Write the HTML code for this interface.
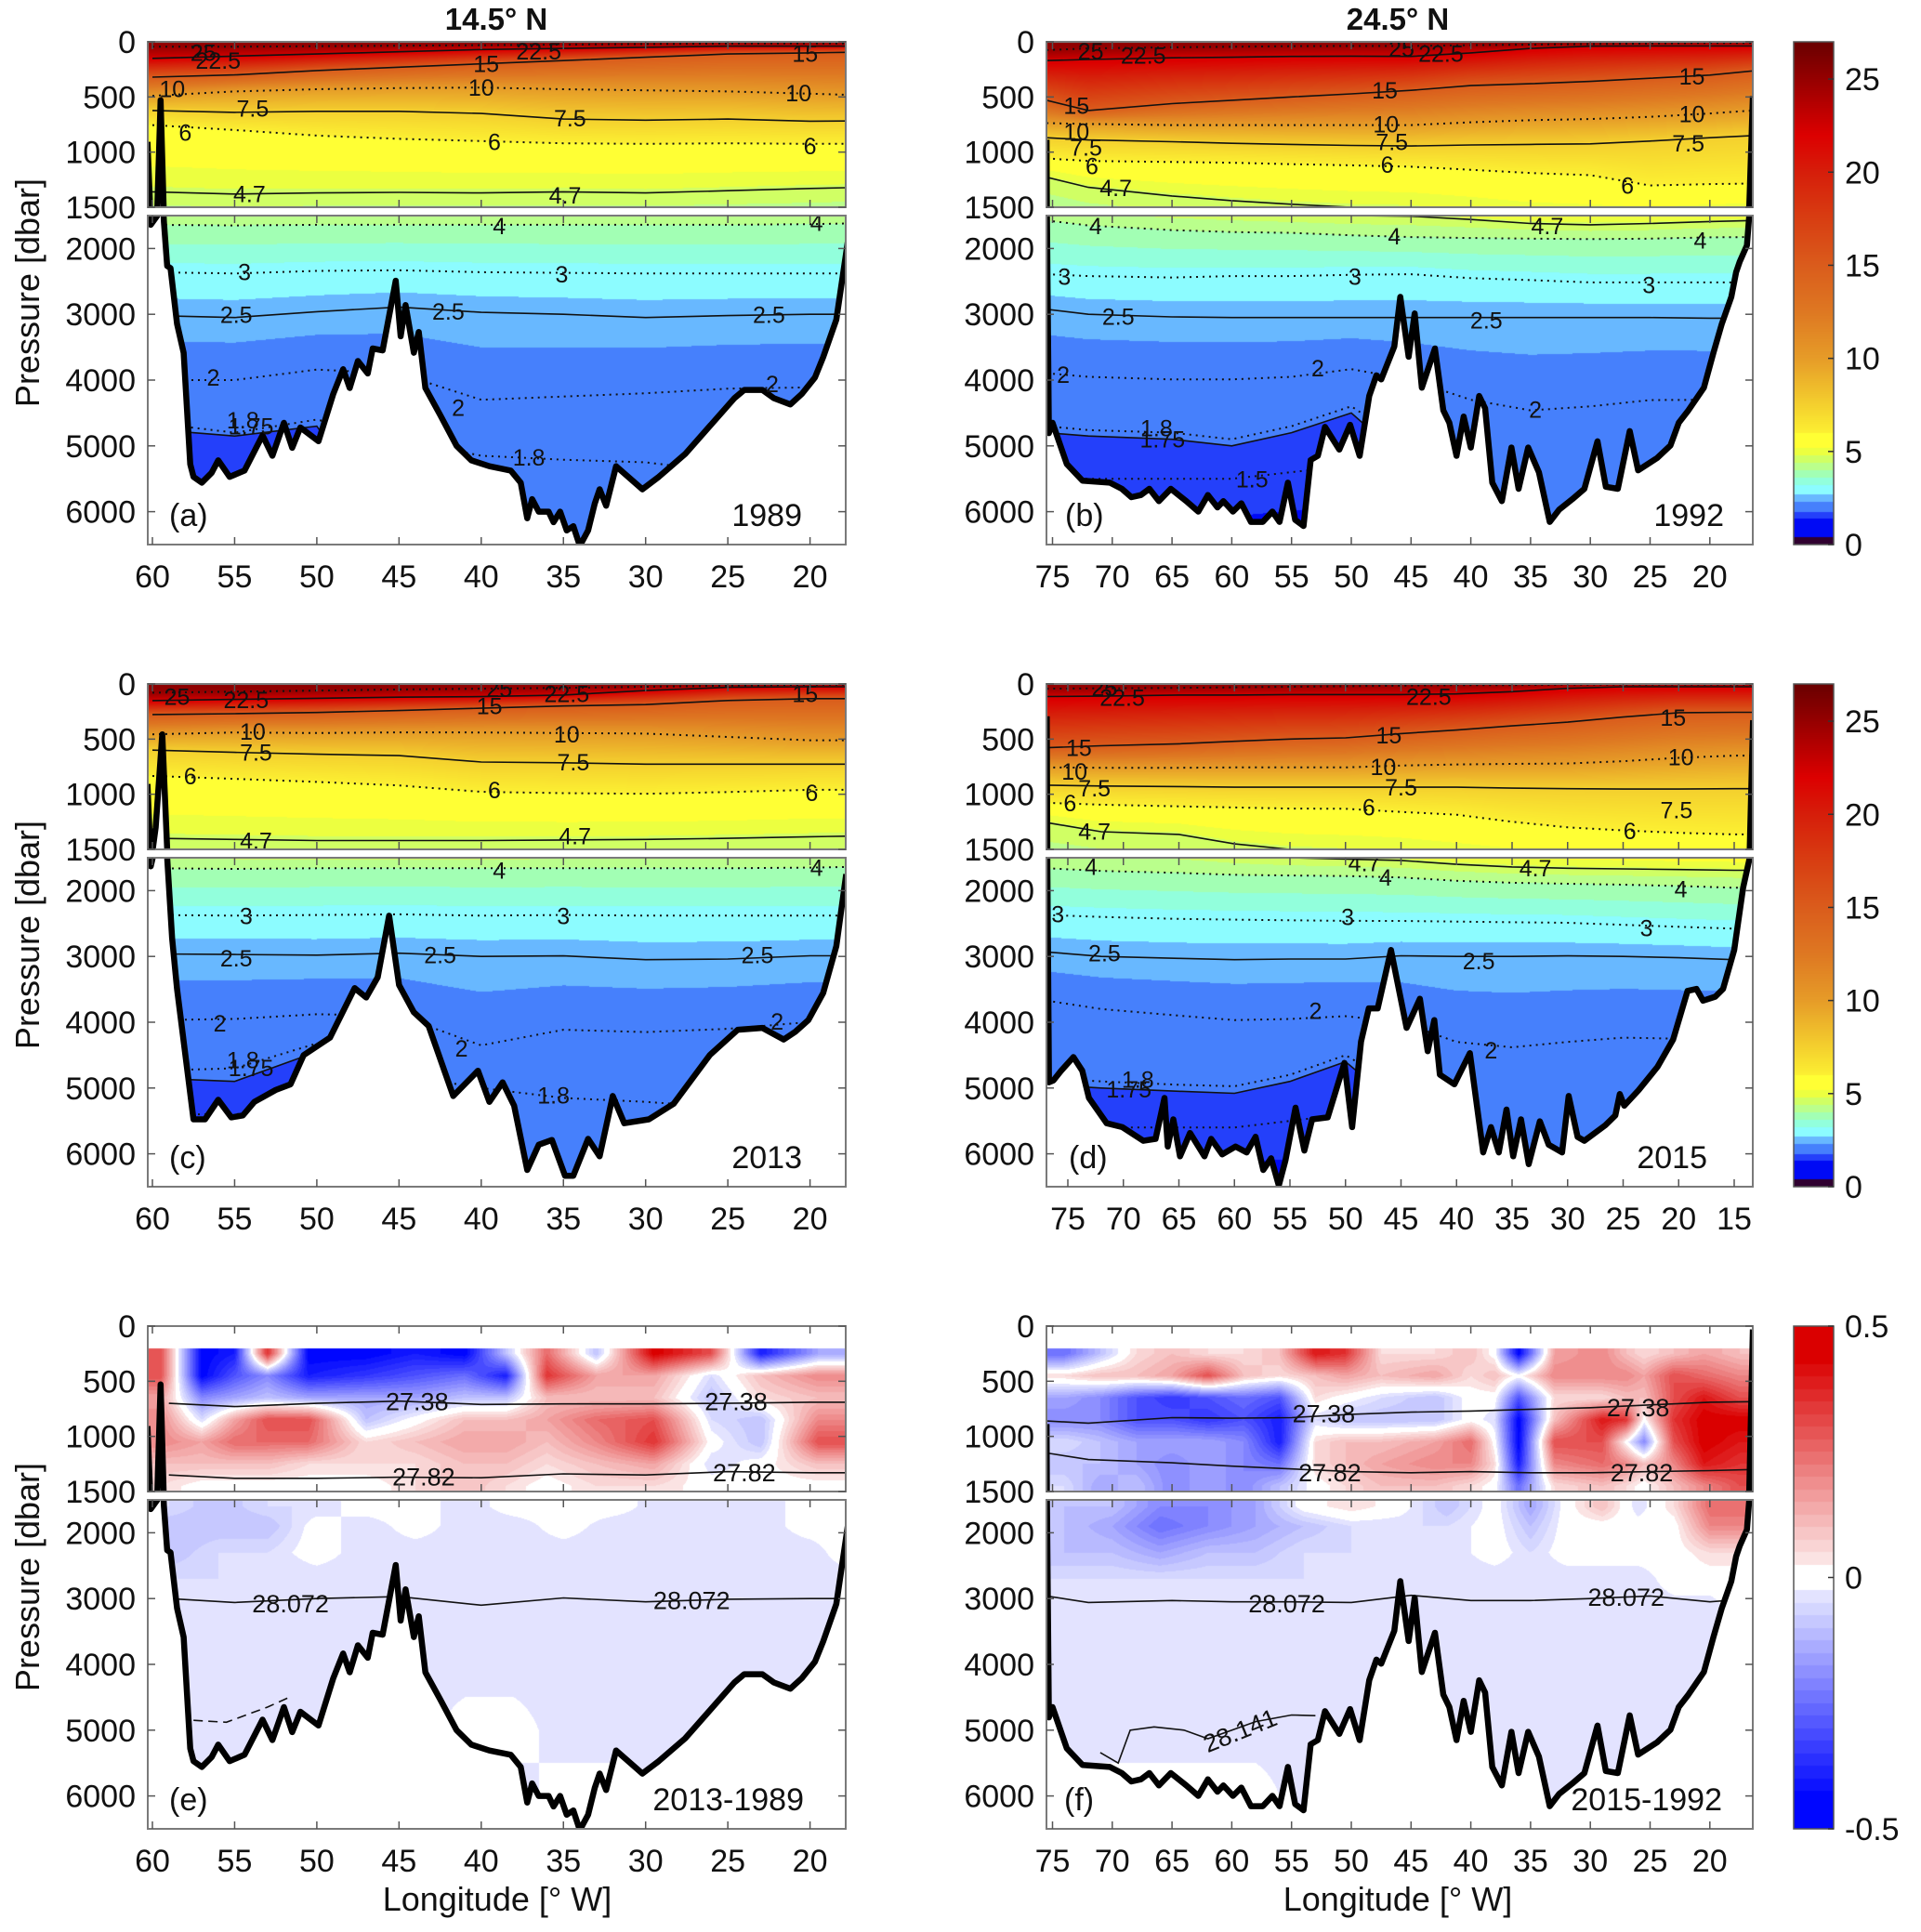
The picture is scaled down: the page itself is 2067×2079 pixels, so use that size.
<!DOCTYPE html>
<html><head><meta charset="utf-8">
<style>
html,body{margin:0;padding:0;background:#fff;width:2067px;height:2079px;overflow:hidden}
body{position:relative}
canvas,svg{position:absolute;left:0;top:0;display:block}
svg{overflow:hidden}
text{font-family:"Liberation Sans",Arial,sans-serif;fill:#111}
</style></head>
<body>
<canvas id="field" width="2067" height="2079"></canvas>
<svg id="ov" width="2067" height="2079" xmlns="http://www.w3.org/2000/svg"></svg>
<script>
// ---------------- DATA ----------------
const tempLevels = [25,22.5,15,10,7.5,6,4.7,4,3,2.5,2,1.8,1.75,1.5];
const dottedLevels = [25,10,6,4,3,2,1.8,1.5];

// Panel (a) 14.5N 1989
const aLons = [60,55,50,45,40,35,30,25,20,17.8];
const aIso = [
 [45,45,40,35,30,25,20,15,15,15],
 [150,130,110,90,70,60,50,40,40,40],
 [320,300,260,230,200,170,140,110,100,95],
 [490,450,430,420,415,430,440,450,470,480],
 [623,640,630,630,650,700,710,700,720,718],
 [755,800,850,880,900,920,925,920,925,925],
 [1360,1380,1370,1365,1370,1360,1370,1350,1330,1323],
 [1640,1650,1640,1640,1640,1640,1640,1640,1630,1620],
 [2360,2380,2340,2330,2360,2370,2380,2380,2380,2380],
 [3020,3050,2960,2890,2970,3000,3050,3020,3000,3000],
 [4000,4000,3840,3900,4300,4250,4200,4130,4110,4110],
 [4650,4800,4600,4900,5150,5210,5250,5400,5400,5400],
 [4750,4850,4700,6500,7000,7000,7000,7000,7000,7000],
 [5500,5500,5400,7500,7500,7500,7500,7500,7500,7500]];
const aBathyLon = [60.3,60.1,59.7,59.5,59.3,59.1,58.9,58.5,58.1,57.7,57.5,57.0,56.4,56.0,55.3,54.4,53.3,52.7,52.0,51.5,51.0,49.9,49.0,48.4,48.0,47.5,46.9,46.6,46.0,45.2,44.9,44.6,44.1,43.8,43.4,42.5,41.5,40.6,39.5,38.2,37.6,37.2,36.9,36.5,35.9,35.6,35.2,34.8,34.4,34.0,33.5,33.1,32.8,32.4,31.8,30.2,29.2,27.6,24.6,24.0,22.9,22.2,21.2,20.5,19.7,19.2,18.4,17.7];
const aBathyP = [907,1640,1500,529,1600,2266,2300,3145,3585,5280,5470,5560,5410,5220,5470,5375,4840,5150,4650,5030,4720,4930,4210,3835,4120,3710,3900,3520,3550,2490,3335,2860,3585,3270,4120,4530,5000,5220,5310,5375,5560,6100,5810,6000,6000,6160,6000,6285,6220,6520,6285,5880,5660,5910,5310,5660,5470,5125,4275,4150,4150,4275,4370,4210,3960,3650,3080,1890];
const aLabels = [["25",56.9,105],["22.5",56.0,175],["15",39.7,208],["22.5",36.5,94],["15",20.3,113],["10",58.8,434],["10",40.0,423],["10",20.7,472],["7.5",53.9,612],["7.5",34.6,700],["6",58.0,831],["6",39.2,914],["6",20.0,952],["4.7",54.1,1386],["4.7",34.9,1398],["4",38.9,1670],["4",19.6,1620],["3",54.4,2372],["3",35.1,2403],["2.5",54.9,3018],["2.5",42.0,2968],["2.5",22.5,3018],["2",56.3,3972],["2",41.4,4430],["2",22.3,4072],["1.8",54.5,4618],["1.75",54.0,4712],["1.8",37.1,5183]];

// Panel (c) 14.5N 2013
const cLons = [60,55,50,45,40,35,30,25,20,17.8];
const cIso = [
 [79,70,60,50,43,35,25,15,7,7],
 [151,140,130,120,115,100,60,30,25,25],
 [277,270,259,241,220,200,187,150,133,133],
 [457,440,445,439,440,445,450,480,511,511],
 [600,620,637,650,708,715,727,727,727,727],
 [834,860,888,920,978,990,996,980,960,960],
 [1400,1410,1420,1420,1420,1415,1410,1400,1385,1380],
 [1660,1670,1660,1660,1660,1660,1660,1660,1650,1640],
 [2370,2380,2370,2360,2380,2370,2380,2380,2380,2380],
 [2962,2970,2980,2950,3000,2991,3050,3040,2990,2990],
 [3967,3950,3879,3900,4352,4115,4150,4100,3997,3997],
 [4736,4700,4322,4800,5000,5151,5210,5300,5400,5400],
 [4850,4900,4450,6500,7000,7000,7000,7000,7000,7000],
 [5400,5400,5300,7500,7500,7500,7500,7500,7500,7500]];
const cBathyLon = [60.3,60.1,59.8,59.4,59.1,58.8,58.5,57.5,56.8,56.0,55.2,54.5,53.8,52.5,51.6,50.8,49.2,47.7,47.0,46.3,45.6,45.0,44.1,43.2,41.7,40.2,39.5,38.7,38.0,37.2,36.5,35.7,34.9,34.4,33.5,32.8,32.0,31.3,29.8,28.3,26.1,24.4,22.9,21.6,20.9,20.1,19.2,18.4,17.8];
const cBathyP = [907,1630,1302,457,1500,2725,3494,5476,5476,5180,5447,5417,5210,5030,4944,4500,4234,3482,3624,3317,2382,3435,3849,4056,5121,4737,5210,4914,5269,6246,5861,5790,6334,6334,5772,6038,5121,5536,5476,5240,4500,4115,4086,4263,4145,3967,3553,2843,1750];
const cLabels = [["25",58.5,122],["22.5",54.3,151],["25",38.9,50],["22.5",34.8,97],["15",39.5,205],["15",20.3,97],["10",53.9,439],["10",34.8,464],["7.5",53.7,626],["7.5",34.4,716],["6",57.7,842],["6",39.2,971],["6",19.9,996],["4.7",53.7,1428],["4.7",34.3,1385],["4",38.9,1707],["4",19.6,1660],["3",54.3,2399],["3",35.0,2399],["2.5",54.9,3038],["2.5",42.5,2991],["2.5",23.2,2991],["2",55.9,4027],["2",41.2,4411],["2",22.0,3997],["1.8",54.5,4589],["1.75",54.0,4707],["1.8",35.6,5121]];

// Panel (b) 24.5N 1992
const bLons = [75.5,72,65,60,55,50,45,40,35,30,25,20,16.4];
const bIso = [
 [75,60,50,45,40,38,38,30,25,20,15,10,10],
 [170,160,145,140,132,130,132,100,60,40,38,38,38],
 [530,623,560,530,500,472,440,397,380,359,330,302,264],
 [737,745,755,755,755,755,755,730,710,700,680,650,623],
 [870,890,906,920,930,940,945,935,930,925,900,870,850],
 [1058,1080,1090,1096,1110,1120,1133,1160,1190,1209,1303,1290,1285],
 [1228,1320,1398,1440,1473,1500,1510,1560,1620,1640,1620,1590,1575],
 [1575,1650,1720,1750,1763,1800,1826,1840,1850,1858,1850,1830,1826],
 [2391,2420,2440,2420,2420,2400,2391,2450,2480,2516,2516,2516,2516],
 [2924,3000,3040,3050,3050,3050,3050,3050,3050,3050,3050,3060,3060],
 [3896,3950,3990,3990,3950,3834,4000,4300,4461,4400,4304,4300,4300],
 [4700,4760,4800,4900,4700,4398,5000,5600,6000,6200,6200,6200,6200],
 [4800,4850,4900,5000,4800,4500,5300,6500,7000,7000,7000,7000,7000],
 [5500,5500,5500,5500,5400,5300,6500,7500,7500,7500,7500,7500,7500]];
const bBathyLon = [75.5,75.3,75.0,73.8,72.5,70.2,69.2,68.4,67.6,66.9,66.1,65.1,63.8,62.8,62.0,61.2,60.7,59.9,59.2,58.4,57.4,56.6,56.0,55.3,54.7,54.0,53.4,52.8,52.2,51.0,50.1,49.3,48.5,47.9,47.5,46.4,45.9,45.2,44.7,44.1,43.0,42.3,41.8,41.2,40.6,40.0,39.3,38.8,38.2,37.4,36.6,36.0,35.2,34.3,33.4,32.6,31.5,30.5,29.4,28.7,27.7,26.7,26.0,24.4,23.3,22.6,21.8,20.5,19.7,19.0,18.2,17.8,17.5,16.9,16.7,16.4];
const bBathyP = [888,4806,4650,5277,5528,5559,5653,5779,5747,5653,5841,5653,5841,5998,5747,5935,5841,5998,5873,6155,6155,5998,6155,5559,6124,6218,5214,5151,4712,5057,4680,5151,4241,3928,3990,3489,2736,3646,2987,4116,3520,4461,4649,5151,4555,5026,4241,4430,5559,5841,5026,5653,5026,5402,6155,5967,5810,5653,4931,5622,5653,4775,5371,5183,4994,4649,4461,4116,3583,3144,2736,2359,2202,1952,1500,491];
const bLabels = [["25",71.8,94],["22.5",67.4,132],["25",45.8,68],["22.5",42.5,113],["15",73.0,585],["15",47.2,446],["15",21.5,321],["10",73.0,823],["10",47.1,755],["10",21.5,661],["7.5",72.2,963],["7.5",46.6,914],["7.5",21.8,925],["6",71.7,1133],["6",47.0,1122],["6",26.9,1311],["4.7",69.7,1330],["4.7",33.6,1669],["4",71.4,1669],["4",46.4,1826],["4",20.8,1889],["3",74.0,2441],["3",49.7,2441],["3",25.1,2566],["2.5",69.5,3050],["2.5",38.7,3100],["2",74.1,3928],["2",52.8,3834],["2",34.6,4461],["1.8",66.3,4743],["1.75",65.8,4913],["1.5",58.3,5515]];

// Panel (d) 24.5N 2015
const dLons = [76.9,72,65,60,55,50,45,40,35,30,25,20,15,13.3];
const dIso = [
 [43,40,35,30,25,20,15,10,10,5,5,5,5,5],
 [114,110,100,100,96,96,96,90,70,40,25,25,25,25],
 [578,560,543,520,500,489,450,418,380,346,300,260,257,257],
 [757,760,760,757,757,757,740,730,725,721,700,670,650,650],
 [918,925,930,936,936,936,936,936,945,950,953,953,950,950],
 [1078,1095,1110,1120,1130,1132,1160,1186,1250,1300,1328,1350,1364,1364],
 [1257,1340,1364,1450,1500,1520,1541,1600,1640,1660,1670,1680,1690,1690],
 [1660,1700,1730,1760,1770,1778,1800,1850,1880,1896,1910,1930,1956,1956],
 [2370,2400,2430,2440,2450,2459,2460,2470,2480,2488,2520,2550,2577,2577],
 [2932,3000,3030,3050,3040,3040,2990,3000,3000,2991,3000,3020,3050,3050],
 [3672,3800,3900,3967,3950,3908,4000,4300,4382,4300,4234,4250,4250,4250],
 [4855,4900,4950,4973,4800,4500,5000,5600,6000,6200,6200,6200,6200,6200],
 [4950,5000,5050,5080,4900,4600,5300,6500,7000,7000,7000,7000,7000,7000],
 [5500,5600,5600,5600,5500,5400,6500,7500,7500,7500,7500,7500,7500,7500]];
const dBathyLon = [76.9,76.7,76.3,75.6,74.5,73.7,73.1,71.5,70.1,68.2,67.1,66.3,66.0,65.5,64.9,64.0,62.7,62.1,61.1,59.9,58.9,58.1,57.4,56.7,56.0,55.4,54.5,53.7,53.0,51.6,50.1,49.4,48.6,47.9,47.1,45.9,44.5,43.3,42.6,42.0,41.5,40.2,38.8,37.6,36.9,36.2,35.5,34.9,34.2,33.5,32.5,31.7,30.5,29.9,29.1,28.5,26.6,25.7,25.3,24.9,23.6,21.9,20.5,19.2,18.4,17.8,16.7,16.0,15.0,14.2,13.6,13.3];
const dBathyP = [293,4914,4884,4737,4530,4737,5151,5536,5595,5802,5772,5151,5890,5476,6038,5683,6038,5772,6009,5890,5979,5742,6246,6068,6482,6098,5299,5950,5476,5447,4618,5595,4293,3790,3790,2902,4086,3642,4441,3967,4796,4944,4470,5979,5595,5979,5328,6038,5476,6157,5506,5861,5979,5121,5743,5802,5565,5417,5092,5269,5033,4678,4263,3524,3494,3672,3612,3494,2902,1956,1500,329];
const dLabels = [["25",71.7,43],["22.5",70.1,132],["22.5",42.5,121],["15",74.0,586],["15",46.1,471],["15",20.5,311],["10",74.4,800],["10",46.6,757],["10",19.8,668],["7.5",72.6,953],["7.5",45.0,943],["7.5",20.2,1150],["6",74.8,1089],["6",47.9,1125],["6",24.4,1339],["4.7",72.6,1346],["4.7",48.3,1589],["4.7",32.9,1672],["4",72.9,1648],["4",46.4,1808],["4",19.8,1985],["3",75.9,2370],["3",49.8,2411],["3",22.9,2577],["2.5",71.7,2962],["2.5",38.0,3080],["2",52.7,3837],["2",36.9,4441],["1.8",68.7,4885],["1.75",69.5,5032]];

// Panel (e) 2013-1989 differences
const eLonsU = [59.5,57,55,53,50.5,47,44,41,38.5,36,33,29.5,26,23,19.5];
const eDepU = [250,450,650,850,1050,1250,1450];
const eValsU = [
 [0.3,0.3,0.15,0.2,0.2,0.1,0.05],
 [-0.45,-0.45,-0.2,-0.05,0.15,0.1,0.0],
 [-0.4,-0.3,-0.15,0.15,0.25,0.1,0.0],
 [0.35,-0.2,-0.1,0.3,0.25,0.1,0.0],
 [-0.45,-0.4,-0.15,0.3,0.25,0.05,0.0],
 [-0.45,-0.35,-0.15,-0.1,0.05,0.05,0.0],
 [-0.4,-0.3,-0.15,0.0,0.1,0.05,0.05],
 [-0.45,-0.25,-0.1,0.1,0.15,0.1,0.1],
 [-0.1,-0.4,-0.1,0.1,0.15,0.1,0.05],
 [0.25,0.35,0.1,0.15,0.1,0.05,0.0],
 [-0.1,0.15,0.1,0.25,0.2,0.1,0.05],
 [0.45,0.15,0.1,0.3,0.35,0.15,0.05],
 [0.3,-0.05,-0.1,-0.05,0.0,-0.05,0.0],
 [-0.4,0.1,0.05,-0.1,-0.1,0.0,0.0],
 [-0.15,0.2,0.1,0.2,0.3,0.1,0.0]];
const eLonsL = [59,56,53,50,47,44,41,38,35,32,29,26,23,20,18];
const eDepL = [1600,1900,2300,2700,3200,4000,5000,6000];
const eValsL = [
 [-0.05,-0.1,-0.1,-0.05,-0.05,-0.05,-0.05,-0.05],
 [-0.1,-0.1,-0.05,-0.05,-0.05,-0.05,-0.05,-0.05],
 [-0.05,-0.1,-0.05,-0.05,-0.05,-0.05,-0.05,-0.05],
 [-0.05,0,0,-0.05,-0.05,-0.05,-0.05,-0.05],
 [0,-0.05,-0.05,-0.05,-0.05,-0.05,-0.05,-0.05],
 [0,0,-0.05,-0.05,-0.05,-0.05,-0.05,-0.05],
 [-0.05,-0.05,-0.05,-0.05,-0.05,-0.05,0,-0.05],
 [0,-0.05,-0.05,-0.05,-0.05,-0.05,0,-0.05],
 [0,0,-0.05,-0.05,-0.05,-0.05,-0.05,0],
 [0,-0.05,-0.05,-0.05,-0.05,-0.05,-0.05,0],
 [-0.05,-0.05,-0.05,-0.05,-0.05,-0.05,-0.05,-0.05],
 [-0.05,-0.05,-0.05,-0.05,-0.05,-0.05,-0.05,-0.05],
 [-0.05,-0.05,-0.05,-0.05,-0.05,-0.05,-0.05,-0.05],
 [0,0,-0.05,-0.05,-0.05,-0.05,-0.05,-0.05],
 [0,0,0,-0.05,-0.05,-0.05,-0.05,-0.05]];
const eRhoLons = [59,55,50,45,40,35,30,25,20,17.8];
const eRho2738 = [700,730,700,680,710,705,705,700,690,690];
const eRho2782 = [1350,1380,1380,1370,1375,1340,1350,1320,1330,1330];
const eRho28072 = [3000,3060,3000,2970,3100,2990,3050,3010,3000,3000];
const eRho28141Lons = [57.5,55.5,53,51.5];
const eRho28141 = [4850,4880,4650,4480];
const eLabels = [["27.38",43.9,685],["27.38",24.5,685],["27.82",43.5,1369],["27.82",24.0,1332],["28.072",51.6,3080],["28.072",27.2,3035]];

// Panel (f) 2015-1992 differences
const fLonsU = [74,71,68,65,62,59,56,53,50.5,47.5,43,40,38,36,33,29,27,25.5,23,20.5,17.5];
const fDepU = [250,450,650,850,1050,1250,1450];
const fValsU = [
 [-0.25,0.05,-0.15,-0.2,-0.05,-0.1,-0.05],
 [-0.1,0.1,-0.2,-0.2,-0.1,-0.1,-0.15],
 [0.05,0.1,-0.3,-0.3,-0.15,-0.15,-0.1],
 [0.1,0.15,-0.35,-0.3,-0.15,-0.2,-0.2],
 [0.05,0.3,-0.3,-0.35,-0.15,-0.15,-0.15],
 [0.05,0.1,-0.25,-0.3,-0.2,-0.2,-0.2],
 [0.1,0.05,-0.3,-0.4,-0.4,-0.25,-0.1],
 [0.4,0.1,0.05,-0.05,0.05,0.05,0.0],
 [0.35,0.15,0.0,-0.1,0.1,0.1,0.05],
 [0.05,0.1,-0.05,-0.1,0.1,0.15,0.1],
 [0.05,0.15,-0.1,-0.1,0.15,0.2,0.1],
 [0.1,0.05,0.0,0.0,0.25,0.2,0.05],
 [0.0,0.1,0.0,-0.05,0.0,0.05,0.0],
 [-0.45,0.0,-0.3,-0.45,-0.45,-0.4,-0.25],
 [0.15,0.2,0.05,0.1,0.3,0.2,0.05],
 [0.2,0.2,0.05,0.4,0.3,0.25,0.1],
 [0.1,0.2,0.1,0.35,0.0,0.2,0.05],
 [0.05,0.15,0.1,0.0,-0.2,0.1,0.0],
 [0.1,0.3,0.3,0.35,0.3,0.2,0.1],
 [0.15,0.25,0.4,0.45,0.45,0.4,0.2],
 [0.1,0.2,0.3,0.45,0.4,0.35,0.3]];
const fLonsL = [74,70,66,62,58,54,50,46,42,38,35,32,29,26,23,20,17.5];
const fDepL = [1600,1900,2300,2700,3200,4000,5000,6000];
const fValsL = [
 [-0.1,-0.1,-0.1,-0.05,-0.05,-0.05,-0.05,0],
 [-0.1,-0.15,-0.1,-0.05,-0.05,-0.05,-0.05,0],
 [-0.2,-0.25,-0.15,-0.05,-0.05,-0.05,-0.05,0],
 [-0.2,-0.2,-0.1,-0.05,-0.05,-0.05,-0.05,0],
 [-0.15,-0.15,-0.1,-0.05,-0.05,-0.05,-0.05,0],
 [0.0,-0.1,-0.05,-0.05,-0.05,-0.05,-0.05,-0.05],
 [0.05,-0.05,-0.05,-0.05,-0.05,-0.05,-0.05,-0.05],
 [0.0,-0.05,-0.05,-0.05,-0.05,-0.05,-0.05,-0.05],
 [-0.1,-0.05,-0.05,-0.05,-0.05,-0.05,-0.05,-0.05],
 [0.0,0.0,0.0,-0.05,-0.05,-0.05,-0.05,-0.05],
 [-0.15,-0.1,-0.05,-0.05,-0.05,-0.05,-0.05,-0.05],
 [0.0,0.0,0.0,-0.05,-0.05,-0.05,-0.05,-0.05],
 [0.1,0.0,0.0,-0.05,-0.05,-0.05,-0.05,-0.05],
 [-0.05,0.0,0.0,-0.05,-0.05,-0.05,-0.05,-0.05],
 [0.05,0.0,0.0,0.0,-0.05,-0.05,-0.05,-0.05],
 [0.25,0.2,0.05,0.0,-0.05,-0.05,-0.05,-0.05],
 [0.25,0.2,0.05,0.0,0.0,-0.05,-0.05,-0.05]];
const fBathyLon = bBathyLon.slice(0,-1).concat([16.4]);
const fBathyP = bBathyP.slice(0,-1).concat([30]);
const fRhoLons = [75.5,72,65,60,55,50,45,40,35,30,25,20,16.4];
const fRho2738 = [860,880,830,835,830,800,780,770,755,740,715,690,685];
const fRho2782 = [1150,1210,1240,1270,1295,1320,1330,1320,1330,1330,1320,1310,1300];
const fRho28072 = [2960,3060,3030,3050,3050,3060,2950,3030,3030,3000,2960,3050,3000];
const fRho28141Lons = [71,69.5,68.5,66.5,64,62,58,55,53];
const fRho28141 = [5340,5500,5000,4950,5000,5130,4870,4770,4780];
const fLabels = [["27.38",52.3,795],["27.38",26.0,740],["27.82",51.8,1332],["27.82",25.7,1332],["28.072",55.4,3080],["28.072",27.0,2985],["28.141",59.3,5010]];

const tempCbTicks = [0,5,10,15,20,25];
const diffCbTicks = [0.5,0,-0.5];
const upperTicks = [0,500,1000,1500];
const lowerTicks = [2000,3000,4000,5000,6000];
const ticksA = [60,55,50,45,40,35,30,25,20];
const ticksB = [75,70,65,60,55,50,45,40,35,30,25,20];
const ticksD = [75,70,65,60,55,50,45,40,35,30,25,20,15];

// ---------------- LAYOUT ----------------
const ROW = [45,736,1427];
const UH = 178, LT = 187, LH = 354;
const colL = {x0:159,x1:910,xt:164,lt:60,k:17.69};
const colR = {x0:1126,x1:1886,xt:1132.5,lt:75,k:12.86};
const colD = {x0:1126,x1:1886,xt:1149,lt:75,k:11.95};

const panels = [
 {id:'a',type:'t',T:ROW[0],c:colL,lons:aLons,iso:aIso,bl:aBathyLon,bp:aBathyP,labels:aLabels,ticks:ticksA,tag:'(a)',year:'1989',tagX:182,yearX:863},
 {id:'b',type:'t',T:ROW[0],c:colR,lons:bLons,iso:bIso,bl:bBathyLon,bp:bBathyP,labels:bLabels,ticks:ticksB,tag:'(b)',year:'1992',tagX:1146,yearX:1855},
 {id:'c',type:'t',T:ROW[1],c:colL,lons:cLons,iso:cIso,bl:cBathyLon,bp:cBathyP,labels:cLabels,ticks:ticksA,tag:'(c)',year:'2013',tagX:182,yearX:863},
 {id:'d',type:'t',T:ROW[1],c:colD,lons:dLons,iso:dIso,bl:dBathyLon,bp:dBathyP,labels:dLabels,ticks:ticksD,tag:'(d)',year:'2015',tagX:1150,yearX:1837},
 {id:'e',type:'d',T:ROW[2],c:colL,gU:[eLonsU,eDepU,eValsU],gL:[eLonsL,eDepL,eValsL],bl:aBathyLon,bp:aBathyP,labels:eLabels,ticks:ticksA,tag:'(e)',year:'2013-1989',tagX:182,yearX:865,
  rho:[[eRhoLons,eRho2738,''],[eRhoLons,eRho2782,''],[eRhoLons,eRho28072,''],[eRho28141Lons,eRho28141,'10 6']]},
 {id:'f',type:'d',T:ROW[2],c:colR,gU:[fLonsU,fDepU,fValsU],gL:[fLonsL,fDepL,fValsL],bl:fBathyLon,bp:fBathyP,labels:fLabels,ticks:ticksB,tag:'(f)',year:'2015-1992',tagX:1145,yearX:1853,
  rho:[[fRhoLons,fRho2738,''],[fRhoLons,fRho2782,''],[fRhoLons,fRho28072,''],[fRho28141Lons,fRho28141,'']]}
];

// ---------------- HELPERS ----------------
function lonX(c,l){return c.xt+(c.lt-l)*c.k;}
function xLon(c,x){return c.lt-(x-c.xt)/c.k;}
function yU(T,p){return T+p/1500*UH;}
function yL(T,p){return T+LT+(p-1500)/5000*LH;}
function interp(xs,ys,x){
  if(x>=xs[0]) return ys[0];
  const n=xs.length; if(x<=xs[n-1]) return ys[n-1];
  for(let i=0;i<n-1;i++){ if(x<=xs[i]&&x>=xs[i+1]){const t=(xs[i]-x)/(xs[i]-xs[i+1]);return ys[i]+(ys[i+1]-ys[i])*t;} }
  return ys[n-1];
}
function interpInc(xs,ys,x){
  const n=xs.length; if(x<=xs[0]) return ys[0]; if(x>=xs[n-1]) return ys[n-1];
  for(let i=0;i<n-1;i++){ if(x>=xs[i]&&x<=xs[i+1]){const t=(x-xs[i])/(xs[i+1]-xs[i]);return ys[i]+(ys[i+1]-ys[i])*t;} }
  return ys[n-1];
}
// insert crossing points at the bounds, then clamp, so visible geometry is unchanged
function clipPts(pts,ymin,ymax){
  const out=[];
  for(let i=0;i<pts.length;i++){
    const p=pts[i];
    if(i>0){
      const q=pts[i-1];
      for(const b of [ymin,ymax]){
        if((q[1]-b)*(p[1]-b)<0){const t=(b-q[1])/(p[1]-q[1]);out.push([q[0]+(p[0]-q[0])*t,b]);}
      }
      // ensure order of inserted points along segment
    }
    out.push(p);
  }
  return out.map(p=>[p[0],Math.max(ymin,Math.min(ymax,p[1]))]);
}
const tSteps=[[0.4,[48,0,48]],[1.4,[0,10,245]],[1.75,[36,64,250]],[2.3,[70,128,252]],[2.7,[104,184,255]],[3.2,[140,252,255]],[3.6,[146,255,220]],[4.0,[162,255,180]],[4.4,[186,255,140]],[4.8,[208,255,100]],[5.2,[236,255,64]],[6.0,[255,255,52]]];
const tCont=[[6,[252,240,50]],[7.5,[244,208,46]],[10,[230,156,40]],[12.5,[222,120,34]],[15,[218,92,28]],[17.5,[216,62,18]],[20,[214,30,10]],[22,[220,0,0]],[25,[150,0,0]],[27,[105,0,0]]];
function tempColor(T){
  for(const s of tSteps){ if(T<s[0]) return s[1]; }
  if(T>=27) return tCont[tCont.length-1][1];
  for(let i=0;i<tCont.length-1;i++){ const a=tCont[i],b=tCont[i+1]; if(T>=a[0]&&T<=b[0]){const t=(T-a[0])/(b[0]-a[0]);return [a[1][0]+(b[1][0]-a[1][0])*t,a[1][1]+(b[1][1]-a[1][1])*t,a[1][2]+(b[1][2]-a[1][2])*t];} }
  return tCont[0][1];
}
function diffColor(v){
  if(Math.abs(v)<0.025) return [255,255,255];
  let t=Math.min(1,Math.abs(v)/0.45); t=Math.ceil(t*18)/18;
  if(v>0) return [255-(255-218)*t,255*(1-t),255*(1-t)];
  return [255*(1-t),255*(1-t)+6*t,255];
}
function grid(g,lon,p){
  const [ls,ds,vs]=g; const col=ls.map((l,i)=>interpInc(ds,vs[i],p));
  return interp(ls,col,lon);
}

// ---------------- FIELD RENDER ----------------
const cv=document.getElementById('field'); const ctx=cv.getContext('2d');
const img=ctx.createImageData(2067,2079); const D=img.data;
function put(x,y,c){const i=(y*2067+x)*4;D[i]=c[0];D[i+1]=c[1];D[i+2]=c[2];D[i+3]=255;}
for(const P of panels){
  const c=P.c;
  const rects=[[Math.round(P.T),Math.round(P.T+UH),true],[Math.round(P.T+LT),Math.round(P.T+LT+LH),false]];
  for(let x=c.x0;x<c.x1;x++){
    const lon=xLon(c,x+0.5);
    let col=null;
    if(P.type==='t'){ col=[-200].concat(P.iso.map(r=>interp(P.lons,r,lon))).concat([9500]); }
    for(const [y0,y1,up] of rects){
      for(let y=y0;y<y1;y++){
        const p= up ? (y+0.5-P.T)/UH*1500 : 1500+(y+0.5-P.T-LT)/LH*5000;
        let rgb;
        if(P.type==='t'){
          const lv=[27].concat(tempLevels).concat([0.8]);
          let T=lv[lv.length-1];
          for(let i=0;i<col.length-1;i++){ if(p>=col[i]&&p<col[i+1]){T=lv[i]+(lv[i+1]-lv[i])*(p-col[i])/(col[i+1]-col[i]);break;} }
          rgb=tempColor(T);
        } else {
          if(up && p<200) continue;
          rgb=diffColor(grid(up?P.gU:P.gL,lon,p));
        }
        put(x,y,rgb);
      }
    }
  }
}
const CBX0=1930, CBX1=1973;
for(let r=0;r<3;r++){
  const y0=ROW[r], y1=ROW[r]+LT+LH;
  for(let y=y0;y<y1;y++){
    const f=(y1-(y+0.5))/(y1-y0);
    const rgb = r<2 ? tempColor(f*27) : diffColor(f-0.5);
    for(let x=CBX0;x<CBX1;x++) put(x,y,rgb);
  }
}
ctx.putImageData(img,0,0);

// ---------------- SVG OVERLAY ----------------
const NS='http://www.w3.org/2000/svg'; const svg=document.getElementById('ov');
function el(tag,attrs,parent){const e=document.createElementNS(NS,tag);for(const k in attrs)e.setAttribute(k,attrs[k]);(parent||svg).appendChild(e);return e;}
function txt(s,x,y,size,anchor,parent,extra){const e=el('text',Object.assign({x:x,y:y,'font-size':size,'text-anchor':anchor||'middle'},extra||{}),parent);e.textContent=s;return e;}
function ptsStr(pts){return pts.map(q=>q[0].toFixed(1)+','+q[1].toFixed(1)).join(' ');}
const defs=el('defs',{});

for(const P of panels){
  const c=P.c;
  const g=el('g',{});
  
  
  const subs=[{y0:P.T,h:UH,f:p=>yU(P.T,p),name:'upper'},{y0:P.T+LT,h:LH,f:p=>yL(P.T,p),name:'lower'}];
  subs.forEach((s,si)=>{
    const ymin=s.y0-12, ymax=s.y0+s.h+12;
    const cid='clip-'+P.id+si;
    const cp=el('clipPath',{id:cid},defs); el('rect',{x:c.x0,y:s.y0,width:c.x1-c.x0,height:s.h},cp);
    const sg=el('g',{'clip-path':'url(#'+cid+')'},g);
    
    
    if(P.type==='t'){
      P.iso.forEach((row,li)=>{
        const lev=tempLevels[li];
        const pts=clipPts(P.lons.map((l,i)=>[lonX(c,l),s.f(row[i])]),ymin,ymax);
        const dotted=dottedLevels.includes(lev);
        const pl=el('polyline',{points:ptsStr(pts),fill:'none',stroke:'#111','stroke-width':dotted?2:1.6,'stroke-dasharray':dotted?'2 5':'none'},sg);
        
        
      });
    } else {
      P.rho.forEach(([ls,ps,dash])=>{
        const pts=clipPts(ls.map((l,i)=>[lonX(c,l),s.f(ps[i])]),ymin,ymax);
        const pl=el('polyline',{points:ptsStr(pts),fill:'none',stroke:'#111','stroke-width':1.6,'stroke-dasharray':dash||'none'},sg);
        
        
      });
    }
    const bpts=clipPts(P.bl.map((l,i)=>[lonX(c,l),s.f(P.bp[i])]),ymin,ymax);
    const n=bpts.length;
    const mpts=[[bpts[0][0]-20,ymax],[bpts[0][0]-20,bpts[0][1]]].concat(bpts).concat([[bpts[n-1][0]+20,bpts[n-1][1]],[bpts[n-1][0]+20,ymax]]);
    const mask=el('polygon',{points:ptsStr(mpts),fill:'#fff',stroke:'none'},sg);
    
    
    const bl=el('polyline',{points:ptsStr(bpts),fill:'none',stroke:'#000','stroke-width':6.5,'stroke-linejoin':'round'},sg);
    
    
    for(const [t,lon,p] of P.labels){
      const inUpper=p<1500;
      if(inUpper!==(si===0)) continue;
      const extra={'dominant-baseline':'central'};
      if(t==='28.141') extra.transform='rotate(-22 '+lonX(c,lon)+' '+s.f(p)+')';
      const lt=txt(t,lonX(c,lon),s.f(p),P.type==='t'?25:27,'middle',sg,extra);
      
      
    }
    const box=el('rect',{x:c.x0,y:s.y0,width:c.x1-c.x0,height:s.h,fill:'none',stroke:'#7a7a7a','stroke-width':2},g);
    
    
    for(const lt of P.ticks){
      const x=lonX(c,lt);
      el('line',{x1:x,y1:s.y0,x2:x,y2:s.y0+8,stroke:'#555','stroke-width':1.5},g);
      el('line',{x1:x,y1:s.y0+s.h,x2:x,y2:s.y0+s.h-8,stroke:'#555','stroke-width':1.5},g);
    }
    const yt= si===0?upperTicks:lowerTicks;
    for(const p of yt){
      const y=s.f(p);
      el('line',{x1:c.x0,y1:y,x2:c.x0+8,y2:y,stroke:'#555','stroke-width':1.5},g);
      el('line',{x1:c.x1,y1:y,x2:c.x1-8,y2:y,stroke:'#555','stroke-width':1.5},g);
      const tl=txt(String(p),c.x0-13,y+12,34,'end',g);
      
      
    }
  });
  for(const lt of P.ticks){
    const t=txt(String(lt),lonX(c,lt),P.T+LT+LH+46,34,'middle',g);
    
    
  }
  const tg=txt(P.tag,P.tagX,P.T+LT+LH-20,34,'start',g);
  
  
  const yr=txt(P.year,P.yearX,P.T+LT+LH-20,34,'end',g);
  
  
}

for(let r=0;r<3;r++){
  const t=txt('Pressure [dbar]',42,ROW[r]+270,36,'middle',svg,{transform:'rotate(-90 42 '+(ROW[r]+270)+')'});
  
  
}
const t1=txt('14.5° N',534,32,33,'middle',svg,{'font-weight':'bold'});


const t2=txt('24.5° N',1504,32,33,'middle',svg,{'font-weight':'bold'});


const x1t=txt('Longitude [° W]',535,2056,36,'middle');


const x2t=txt('Longitude [° W]',1504,2056,36,'middle');



for(let r=0;r<3;r++){
  const y0=ROW[r], y1=ROW[r]+LT+LH;
  const cb=el('rect',{x:CBX0,y:y0,width:CBX1-CBX0,height:y1-y0,fill:'none',stroke:'#555','stroke-width':1.5});
  
  
  const ticks = r<2?tempCbTicks:diffCbTicks;
  for(const v of ticks){
    const y = r<2 ? y1-(v/27)*(y1-y0) : y1-(v+0.5)*(y1-y0);
    el('line',{x1:CBX1,y1:y,x2:CBX1-6,y2:y,stroke:'#333','stroke-width':1.5});
    const ty=Math.max(y0+12,Math.min(y1+12,y+12));
    const t=txt(String(v),1985,ty,34,'start');
    
    
  }
}
</script>
</body></html>
